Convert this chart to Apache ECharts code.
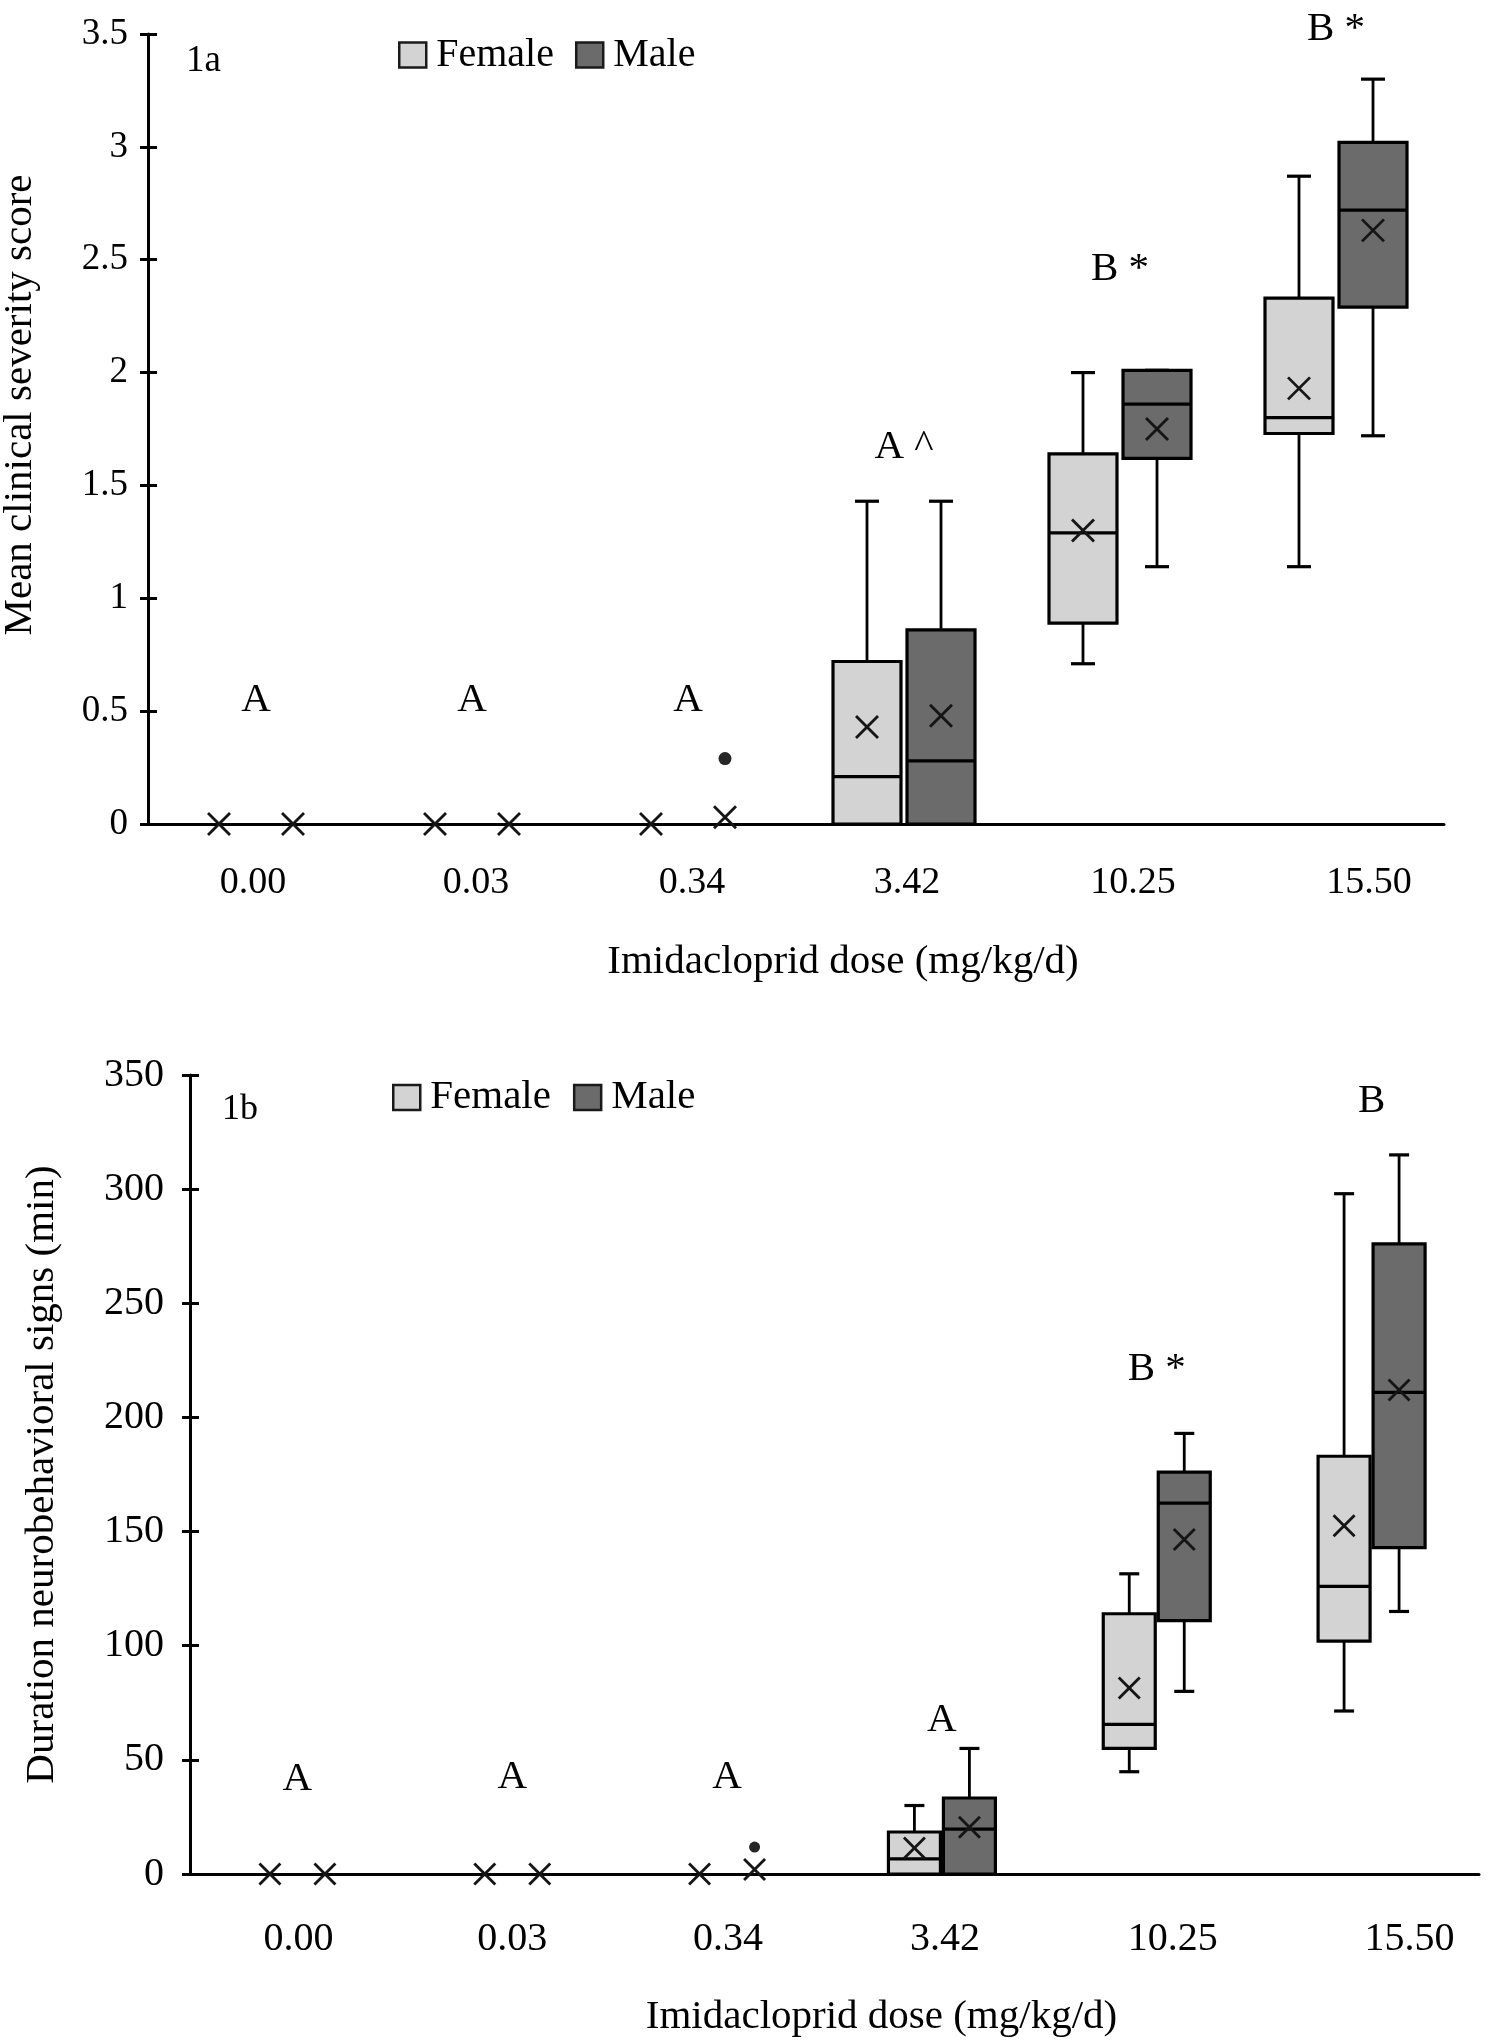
<!DOCTYPE html>
<html>
<head>
<meta charset="utf-8">
<script src="https://cdn.jsdelivr.net/npm/echarts@6/dist/echarts.min.js"></script>
<style>
html,body{margin:0;padding:0;background:#ffffff;}
#chart{width:1489px;height:2040px;}
</style>
</head>
<body>
<div id="chart"></div>
<script>
// ---------------- DATA ----------------
const doses = ['0.00', '0.03', '0.34', '3.42', '10.25', '15.50'];
const seriesNames = ['Female', 'Male'];

// Panel 1a: mean clinical severity score; each box = [whiskerLow, Q1, median, Q3, whiskerHigh]
const severityFemaleBox = [[0,0,0,0,0],[0,0,0,0,0],[0,0,0,0,0],[0,0,0.21,0.72,1.43],[0.71,0.89,1.29,1.64,2.00],[1.14,1.73,1.80,2.33,2.87]];
const severityMaleBox   = [[0,0,0,0,0],[0,0,0,0,0],[0,0,0,0,0],[0,0,0.28,0.86,1.43],[1.14,1.62,1.86,2.01,2.01],[1.72,2.29,2.72,3.02,3.30]];
const severityFemaleMean = [0, 0, 0, 0.43, 1.30, 1.93];
const severityMaleMean   = [0, 0, 0.03, 0.48, 1.75, 2.63];
const severityMaleOutliers = [['0.34', 0.29]];
const severityLetters = ['A', 'A', 'A', 'A ^', 'B *', 'B *'];
const severityLetterY = [0.55, 0.55, 0.55, 1.67, 2.46, 3.52];
const severityTicks = { min: 0, max: 3.5, interval: 0.5 };

// Panel 1b: duration of neurobehavioral signs (min)
const durationFemaleBox = [[0,0,0,0,0],[0,0,0,0,0],[0,0,0,0,0],[0,0,6.6,18.4,30],[44.8,55,65.5,114,131.5],[71.4,102,126,183,298]];
const durationMaleBox   = [[0,0,0,0,0],[0,0,0,0,0],[0,0,0,0,0],[0,0,19.7,33.3,55],[80,111,162.5,176,193],[115,143,211,276,315]];
const durationFemaleMean = [0, 0, 0, 11.4, 81.5, 152.5];
const durationMaleMean   = [0, 0, 2, 20.5, 146.5, 212];
const durationMaleOutliers = [['0.34', 11.8]];
const durationLetters = ['A', 'A', 'A', 'A', 'B *', 'B'];
const durationLetterY = [41.5, 42.3, 42.5, 67.2, 221, 338.5];
const durationTicks = { min: 0, max: 350, interval: 50 };

// ---------------- STYLE / LAYOUT ----------------
const FONT = '"Liberation Serif", "Times New Roman", Times, serif';
const FEMALE_FILL = '#d3d3d3';
const MALE_FILL = '#6b6b6b';
const INK = '#000000';

const layout = [
  { grid: { left: 148, top: 34, width: 1296, height: 790 },
    boxW: 68, offset: 37, capW: 24, markSize: 22, dotR: 6.5,
    tickFont: 37, catFont: 38, catMargin: 40, nameFont: 41,
    catShift: [-3, 4, 4, 3, 13, 33],
    yLabelMargin: 20, yNameGap: 107, yNameShiftUp: 24,
    xNameGap: 118, xNameShift: 47,
    legend: { left: 398, top: 35, gap: 21, font: 40 },
    tag: { text: '1a', left: 186, top: 43, size: 37 } },
  { grid: { left: 190, top: 1075, width: 1289, height: 799 },
    boxW: 52, offset: 27.5, capW: 20, markSize: 21, dotR: 5.5,
    tickFont: 40, catFont: 40, catMargin: 45, nameFont: 41,
    catShift: [1, 0, 1, 3, 16, 38],
    yLabelMargin: 26, yNameGap: 127, yNameShiftUp: 0,
    xNameGap: 123, xNameShift: 47,
    legend: { left: 392, top: 1077, gap: 22, font: 41 },
    tag: { text: '1b', left: 222, top: 1092, size: 36 } }
];

// ---------------- BUILDERS ----------------
function boxData(boxes, means) {
  return boxes.map((b, i) => [i, b[0], b[1], b[2], b[3], b[4], means[i]]);
}

function boxSeries(name, gi, boxes, means, fill, dir) {
  const L = layout[gi];
  return {
    type: 'custom', name: name, xAxisIndex: gi, yAxisIndex: gi * 2,
    data: boxData(boxes, means),
    encode: { x: 0, y: [1, 2, 3, 4, 5, 6] },
    clip: false, z: 5,
    itemStyle: { color: fill, borderColor: INK },
    renderItem: function (params, api) {
      const i = api.value(0);
      const cx = api.coord([i, 0])[0] + dir * L.offset;
      const Y = v => api.coord([i, v])[1];
      const lo = api.value(1), hi = api.value(5);
      const yLo = Y(lo), yQ1 = Y(api.value(2)), yMed = Y(api.value(3));
      const yQ3 = Y(api.value(4)), yHi = Y(hi), yMean = Y(api.value(6));
      const w = L.boxW, cw = L.capW, m = L.markSize / 2;
      const ln = { stroke: INK, lineWidth: 2.8 };
      const children = [];
      if (hi > lo) {
        children.push(
          { type: 'line', shape: { x1: cx, y1: yHi, x2: cx, y2: yQ3 }, style: ln },
          { type: 'line', shape: { x1: cx, y1: yQ1, x2: cx, y2: yLo }, style: ln },
          { type: 'line', shape: { x1: cx - cw / 2, y1: yHi, x2: cx + cw / 2, y2: yHi }, style: { stroke: INK, lineWidth: 3.2 } },
          { type: 'line', shape: { x1: cx - cw / 2, y1: yLo, x2: cx + cw / 2, y2: yLo }, style: { stroke: INK, lineWidth: 3.2 } },
          { type: 'rect', shape: { x: cx - w / 2, y: yQ3, width: w, height: yQ1 - yQ3 }, style: { fill: fill, stroke: INK, lineWidth: 3.2 } },
          { type: 'line', shape: { x1: cx - w / 2, y1: yMed, x2: cx + w / 2, y2: yMed }, style: { stroke: INK, lineWidth: 3.2 } }
        );
      }
      children.push(
        { type: 'line', shape: { x1: cx - m, y1: yMean - m, x2: cx + m, y2: yMean + m }, style: { stroke: '#151515', lineWidth: 2.8 } },
        { type: 'line', shape: { x1: cx - m, y1: yMean + m, x2: cx + m, y2: yMean - m }, style: { stroke: '#151515', lineWidth: 2.8 } }
      );
      return { type: 'group', children: children };
    }
  };
}

function outlierSeries(gi, points, dir) {
  const L = layout[gi];
  return {
    type: 'custom', name: 'Male outliers', xAxisIndex: gi, yAxisIndex: gi * 2,
    data: points.map(p => [doses.indexOf(p[0]), p[1]]),
    encode: { x: 0, y: 1 }, clip: false, z: 6,
    renderItem: function (params, api) {
      const c = api.coord([api.value(0), api.value(1)]);
      return { type: 'circle', shape: { cx: c[0] + dir * L.offset, cy: c[1], r: L.dotR }, style: { fill: '#262626' } };
    }
  };
}

function letterSeries(gi, letters, ys) {
  return {
    type: 'custom', name: 'letters' + gi, xAxisIndex: gi, yAxisIndex: gi * 2,
    data: letters.map((t, i) => [i, ys[i]]),
    encode: { x: 0, y: 1 }, clip: false, z: 6, silent: true,
    renderItem: function (params, api) {
      const c = api.coord([api.value(0), api.value(1)]);
      return { type: 'text', x: c[0], y: c[1],
        style: { text: letters[params.dataIndex], fill: INK, font: '41px ' + FONT, align: 'center', verticalAlign: 'middle' } };
    }
  };
}

function catRich(gi) {
  const L = layout[gi];
  const rich = {};
  L.catShift.forEach((s, i) => {
    rich['s' + i] = { fontFamily: FONT, fontSize: L.catFont, color: INK,
      padding: s >= 0 ? [0, 0, 0, 2 * s] : [0, -2 * s, 0, 0] };
  });
  return rich;
}

function xAxisCfg(gi) {
  const L = layout[gi];
  return {
    type: 'category', gridIndex: gi, data: doses, boundaryGap: true,
    name: 'Imidacloprid dose (mg/kg/d)', nameLocation: 'middle', nameGap: L.xNameGap,
    nameTextStyle: { fontFamily: FONT, fontSize: L.nameFont, color: INK, padding: [0, 0, 0, 2 * L.xNameShift] },
    axisLine: { show: true, lineStyle: { color: INK, width: 3 } },
    axisTick: { show: false },
    axisLabel: { margin: L.catMargin, fontFamily: FONT, fontSize: L.catFont, color: INK, interval: 0,
      formatter: (v, i) => '{s' + i + '|' + v + '}', rich: catRich(gi) },
    splitLine: { show: false }
  };
}

function yAxisCfgs(gi, ticks, title) {
  const L = layout[gi];
  const main = {
    type: 'value', gridIndex: gi, min: ticks.min, max: ticks.max, interval: ticks.interval,
    name: title, nameLocation: 'middle', nameGap: L.yNameGap, nameRotate: 90,
    nameTextStyle: { fontFamily: FONT, fontSize: L.nameFont, color: INK, padding: [0, 0, 0, 2 * L.yNameShiftUp] },
    axisLine: { show: true, lineStyle: { color: INK, width: 3 } },
    axisTick: { show: true, inside: false, length: 8, lineStyle: { color: INK, width: 3 } },
    axisLabel: { margin: L.yLabelMargin, fontFamily: FONT, fontSize: L.tickFont, color: INK },
    splitLine: { show: false }
  };
  const inner = {
    type: 'value', gridIndex: gi, position: 'left', offset: 0,
    min: ticks.min, max: ticks.max, interval: ticks.interval,
    axisLine: { show: false },
    axisTick: { show: true, inside: true, length: 9, lineStyle: { color: INK, width: 3 } },
    axisLabel: { show: false }, splitLine: { show: false }
  };
  return [main, inner];
}

function legendCfg(gi) {
  const L = layout[gi].legend;
  return {
    left: L.left, top: L.top, padding: 0, orient: 'horizontal',
    itemWidth: 27, itemHeight: 25, itemGap: L.gap, icon: 'rect', selectedMode: false,
    textStyle: { fontFamily: FONT, fontSize: L.font, color: INK, padding: [0, 0, 0, 5] },
    data: [
      { name: seriesNames[0], icon: 'rect', itemStyle: { color: FEMALE_FILL, borderColor: '#1a1a1a', borderWidth: 2.5 } },
      { name: seriesNames[1], icon: 'rect', itemStyle: { color: MALE_FILL, borderColor: '#1a1a1a', borderWidth: 2.5 } }
    ]
  };
}

const gridCfg = layout.map(L => Object.assign({ containLabel: false, outerBoundsMode: 'none' }, L.grid));

const option = {
  animation: false,
  backgroundColor: '#ffffff',
  textStyle: { fontFamily: FONT },
  title: layout.map(L => ({ text: L.tag.text, left: L.tag.left, top: L.tag.top, padding: 0,
    textStyle: { fontFamily: FONT, fontSize: L.tag.size, fontWeight: 'normal', color: INK } })),
  legend: [legendCfg(0), legendCfg(1)],
  grid: gridCfg,
  xAxis: [xAxisCfg(0), xAxisCfg(1)],
  yAxis: yAxisCfgs(0, severityTicks, 'Mean clinical severity score')
    .concat(yAxisCfgs(1, durationTicks, 'Duration neurobehavioral signs (min)')),
  series: [
    boxSeries(seriesNames[0], 0, severityFemaleBox, severityFemaleMean, FEMALE_FILL, -1),
    boxSeries(seriesNames[1], 0, severityMaleBox, severityMaleMean, MALE_FILL, 1),
    outlierSeries(0, severityMaleOutliers, 1),
    letterSeries(0, severityLetters, severityLetterY),
    boxSeries(seriesNames[0], 1, durationFemaleBox, durationFemaleMean, FEMALE_FILL, -1),
    boxSeries(seriesNames[1], 1, durationMaleBox, durationMaleMean, MALE_FILL, 1),
    outlierSeries(1, durationMaleOutliers, 1),
    letterSeries(1, durationLetters, durationLetterY)
  ]
};

const chart = echarts.init(document.getElementById('chart'), null, { renderer: 'canvas' });
chart.setOption(option);
</script>
</body>
</html>
